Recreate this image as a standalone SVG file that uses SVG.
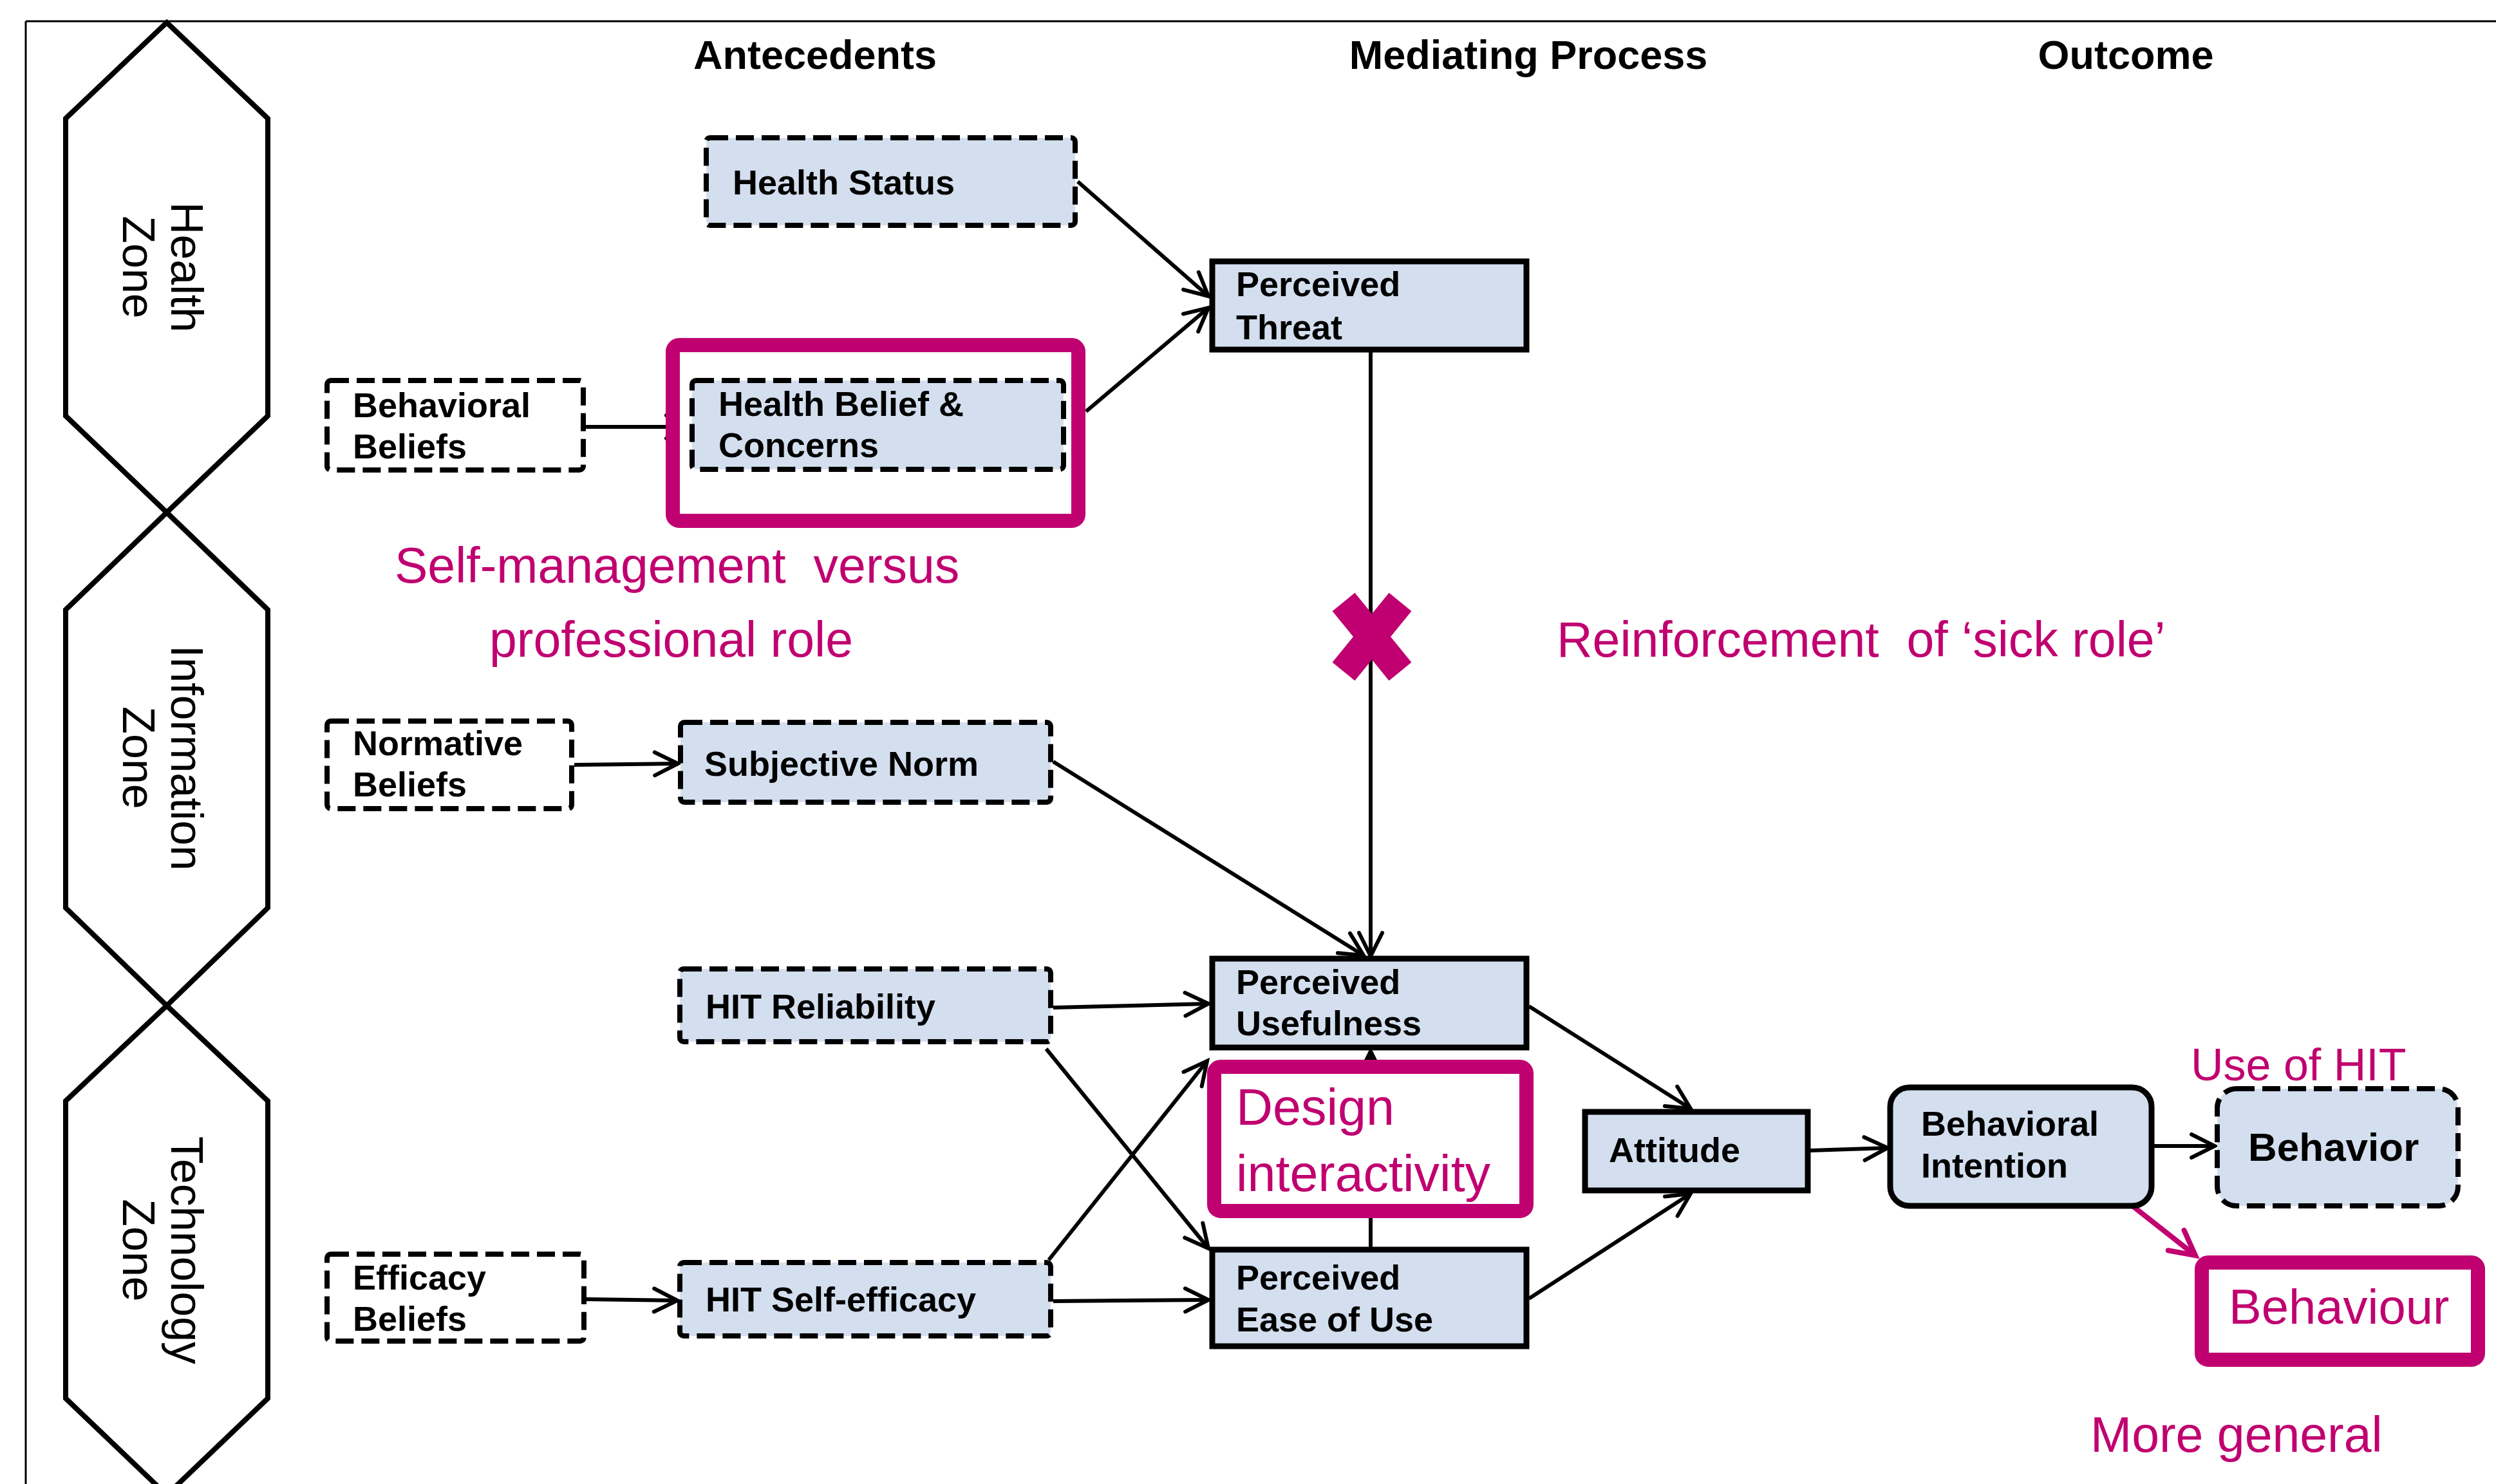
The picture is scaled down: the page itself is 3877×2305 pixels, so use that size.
<svg xmlns="http://www.w3.org/2000/svg" width="3877" height="2305" viewBox="0 0 3877 2305">
<style>
  .bg{fill:#ffffff}
  .frame{stroke:#000;stroke-width:3;fill:none}
  .hex{fill:#ffffff;stroke:#000;stroke-width:8;stroke-linejoin:miter}
  .zone{font-family:"Liberation Sans",Arial,sans-serif;font-size:70px;fill:#000;text-anchor:middle}
  .hdr{font-family:"Liberation Sans",Arial,sans-serif;font-weight:bold;font-size:63px;fill:#000;text-anchor:middle}
  .dash{fill:#D3DFEE;stroke:#000;stroke-width:8;stroke-dasharray:28 12}
  .dashw{fill:#ffffff;stroke:#000;stroke-width:8;stroke-dasharray:28 12}
  .solid{fill:#D3DFEE;stroke:#000;stroke-width:9}
  .hl{fill:#ffffff;stroke:#C00070;stroke-width:22}
  .lbl{font-family:"Liberation Sans",Arial,sans-serif;font-weight:bold;font-size:54px;fill:#000}
  .mag{font-family:"Liberation Sans",Arial,sans-serif;font-size:77px;fill:#C00070;white-space:pre}
  .conn{stroke:#000;stroke-width:6;fill:none;marker-end:url(#arr)}
  .connm{stroke:#C00070;stroke-width:8;fill:none;marker-end:url(#arrm)}
</style>
<defs>
  <marker id="arr" markerUnits="userSpaceOnUse" markerWidth="44" markerHeight="44" refX="40" refY="22" orient="auto" overflow="visible">
    <path d="M4,4 L40,22 L4,40" fill="none" stroke="#000" stroke-width="6" stroke-linecap="round" stroke-linejoin="miter"/>
  </marker>
  <marker id="arrm" markerUnits="userSpaceOnUse" markerWidth="50" markerHeight="50" refX="44" refY="24" orient="auto" overflow="visible">
    <path d="M6,4 L44,24 L6,44" fill="none" stroke="#C00070" stroke-width="8" stroke-linecap="round"/>
  </marker>
</defs>
<rect class="bg" x="0" y="0" width="3877" height="2305"/>
<g id="frame">
  <line class="frame" x1="40" y1="33" x2="3877" y2="33"/>
  <line class="frame" x1="40" y1="33" x2="40" y2="2305"/>
</g>
<g id="zone-health">
  <polygon class="hex" points="259,35 416,184 416,646 259,796 102,646 102,184"/>
  <text class="zone" transform="translate(259,415) rotate(90)"><tspan x="0" y="-7">Health</tspan><tspan x="0" y="68">Zone</tspan></text>
</g>
<g id="zone-information">
  <polygon class="hex" points="259,796 416,947 416,1410 259,1562 102,1410 102,947"/>
  <text class="zone" transform="translate(259,1177) rotate(90)"><tspan x="0" y="-7">Information</tspan><tspan x="0" y="68">Zone</tspan></text>
</g>
<g id="zone-technology">
  <polygon class="hex" points="259,1562 416,1710 416,2172 259,2322 102,2172 102,1710"/>
  <text class="zone" transform="translate(259,1942) rotate(90)"><tspan x="0" y="-7">Technology</tspan><tspan x="0" y="68">Zone</tspan></text>
</g>
<g id="headers">
  <text class="hdr" x="1266" y="107">Antecedents</text>
  <text class="hdr" x="2374" y="107">Mediating Process</text>
  <text class="hdr" x="3302" y="107">Outcome</text>
</g>
<g id="connectors">
  <line class="conn" x1="910" y1="663" x2="1071" y2="663"/>
  <line class="conn" x1="1674" y1="282" x2="1877" y2="460"/>
  <line class="conn" x1="1687" y1="639" x2="1877" y2="478"/>
  <line class="conn" x1="2129" y1="547" x2="2129" y2="1485"/>
  <line class="conn" x1="892" y1="1188" x2="1053" y2="1186"/>
  <line class="conn" x1="1636" y1="1183" x2="2118" y2="1484"/>
  <line class="conn" x1="1636" y1="1565" x2="1877" y2="1559"/>
  <line class="conn" x1="1625" y1="1629" x2="1877" y2="1939"/>
  <line class="conn" x1="1629" y1="1957" x2="1875" y2="1648"/>
  <line class="conn" x1="1636" y1="2021" x2="1877" y2="2019"/>
  <line class="conn" x1="911" y1="2018" x2="1052" y2="2020"/>
  <line class="conn" x1="2129" y1="1937" x2="2129" y2="1633"/>
  <line class="conn" x1="2375" y1="1563" x2="2626" y2="1722"/>
  <line class="conn" x1="2375" y1="2017" x2="2626" y2="1854"/>
  <line class="conn" x1="2812" y1="1787" x2="2932" y2="1783"/>
  <line class="conn" x1="3346" y1="1780" x2="3440" y2="1780"/>
  <line class="connm" x1="3302" y1="1865" x2="3410" y2="1950"/>
</g>
<g id="cross-mark">
  <line x1="2087" y1="935" x2="2175" y2="1043" stroke="#C00070" stroke-width="45"/>
  <line x1="2175" y1="935" x2="2087" y2="1043" stroke="#C00070" stroke-width="45"/>
</g>
<g id="health-status">
  <rect class="dash" x="1097" y="214" width="573" height="136" rx="6"/>
  <text class="lbl" x="1138" y="302">Health Status</text>
</g>
<g id="health-belief-highlight">
  <rect class="hl" x="1045" y="536" width="630" height="273" rx="10"/>
</g>
<g id="health-belief">
  <rect class="dash" x="1075" y="591" width="577" height="138" rx="6"/>
  <text class="lbl" x="1116" y="646">Health Belief &amp;</text>
  <text class="lbl" x="1116" y="710">Concerns</text>
</g>
<g id="behavioral-beliefs">
  <rect class="dashw" x="508" y="591" width="398" height="139" rx="6"/>
  <text class="lbl" x="548" y="648">Behavioral</text>
  <text class="lbl" x="548" y="712">Beliefs</text>
</g>
<g id="perceived-threat">
  <rect class="solid" x="1883" y="406" width="488" height="137"/>
  <text class="lbl" x="1920" y="460">Perceived</text>
  <text class="lbl" x="1920" y="527">Threat</text>
</g>
<g id="normative-beliefs">
  <rect class="dashw" x="508" y="1120" width="380" height="136" rx="6"/>
  <text class="lbl" x="548" y="1173">Normative</text>
  <text class="lbl" x="548" y="1237">Beliefs</text>
</g>
<g id="subjective-norm">
  <rect class="dash" x="1057" y="1122" width="575" height="124" rx="6"/>
  <text class="lbl" x="1094" y="1205">Subjective Norm</text>
</g>
<g id="hit-reliability">
  <rect class="dash" x="1056" y="1505" width="576" height="113" rx="6"/>
  <text class="lbl" x="1096" y="1582">HIT Reliability</text>
</g>
<g id="hit-self-efficacy">
  <rect class="dash" x="1056" y="1961" width="576" height="114" rx="6"/>
  <text class="lbl" x="1096" y="2037">HIT Self-efficacy</text>
</g>
<g id="efficacy-beliefs">
  <rect class="dashw" x="508" y="1948" width="399" height="135" rx="6"/>
  <text class="lbl" x="548" y="2003">Efficacy</text>
  <text class="lbl" x="548" y="2067">Beliefs</text>
</g>
<g id="perceived-usefulness">
  <rect class="solid" x="1883" y="1489" width="488" height="138"/>
  <text class="lbl" x="1920" y="1544">Perceived</text>
  <text class="lbl" x="1920" y="1608">Usefulness</text>
</g>
<g id="design-interactivity">
  <rect class="hl" x="1886" y="1657" width="485" height="224" rx="10"/>
  <text class="mag" x="1920" y="1747" style="font-size:79px">Design</text>
  <text class="mag" x="1920" y="1850" style="font-size:79px">interactivity</text>
</g>
<g id="perceived-ease-of-use">
  <rect class="solid" x="1883" y="1941" width="488" height="150"/>
  <text class="lbl" x="1920" y="2003">Perceived</text>
  <text class="lbl" x="1920" y="2068">Ease of Use</text>
</g>
<g id="attitude">
  <rect class="solid" x="2462" y="1727" width="346" height="122"/>
  <text class="lbl" x="2499" y="1805">Attitude</text>
</g>
<g id="behavioral-intention">
  <rect class="solid" x="2936" y="1689" width="406" height="184" rx="30"/>
  <text class="lbl" x="2984" y="1764">Behavioral</text>
  <text class="lbl" x="2984" y="1829">Intention</text>
</g>
<g id="behavior">
  <rect class="dash" x="3444" y="1691" width="374" height="182" rx="30"/>
  <text class="lbl" x="3492" y="1803" style="font-size:62px">Behavior</text>
</g>
<g id="behaviour">
  <rect class="hl" x="3420" y="1961" width="429" height="151" rx="10"/>
  <text class="mag" x="3462" y="2056" style="font-size:76px">Behaviour</text>
</g>
<g id="annotations">
  <text class="mag" x="613" y="905">Self-management  versus</text>
  <text class="mag" x="760" y="1020">professional role</text>
  <text class="mag" x="2418" y="1020">Reinforcement  of ‘sick role’</text>
  <text class="mag" x="3403" y="1678" style="font-size:70px">Use of HIT</text>
  <text class="mag" x="3247" y="2255">More general</text>
</g>
</svg>
